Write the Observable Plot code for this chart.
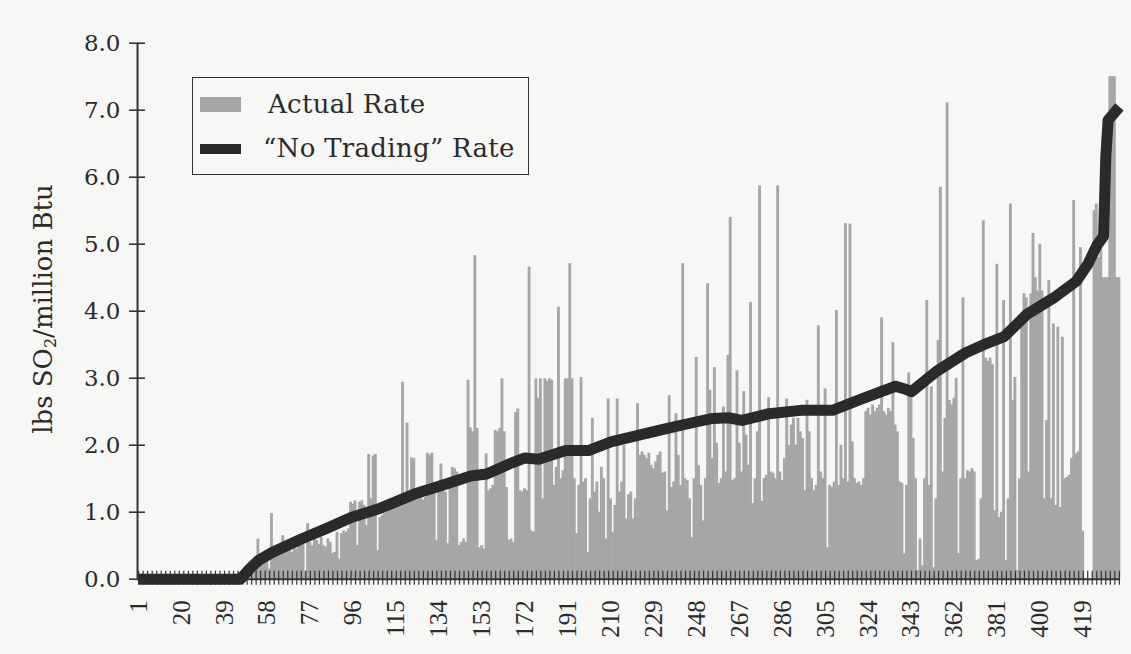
<!DOCTYPE html>
<html>
<head>
<meta charset="utf-8">
<script src="https://cdn.jsdelivr.net/npm/d3@7"></script>
<script src="https://cdn.jsdelivr.net/npm/@observablehq/plot@0.6"></script>
<style>
  html, body { margin: 0; padding: 0; background: #f7f7f5; }
  #wrap { position: relative; width: 1131px; height: 654px; overflow: hidden; }
  #ylabel { position: absolute; left: 44px; top: 309px; transform: translate(-50%, -50%) rotate(-90deg);
            font-family: "DejaVu Serif"; font-size: 26px; color: #2b2b2b; white-space: nowrap; }
  #ylabel sub { font-size: 16px; vertical-align: -4px; }
  #legend { position: absolute; left: 192px; top: 77px; width: 337px; height: 98px; box-sizing: border-box;
            border: 1.6px solid #333; background: #f7f7f5; }
  .sw { position: absolute; left: 200px; width: 41px; }
  .lt { position: absolute; font-family: "DejaVu Serif"; font-size: 26px; line-height: 26px; letter-spacing: 0.3px; color: #2b2b2b; white-space: nowrap; }
</style>
</head>
<body>
<div id="wrap">
  <div id="chart"></div>
  <div id="ylabel">lbs SO<sub>2</sub>/million Btu</div>
  <div id="legend"></div>
  <div class="sw" style="top:97px;height:15px;background:#a6a6a6;"></div>
  <div class="lt" style="left:268px;top:91px;">Actual Rate</div>
  <div class="sw" style="top:144px;height:10px;background:#2a2a2a;"></div>
  <div class="lt" style="left:263px;top:135px;">“No Trading” Rate</div>
</div>
<script>
// Actual SO2 emission rate for each unit (units sorted by "No Trading" rate)
const actualRate = [
  // 1-45
  0,0,0,0,0,0,0,0,0,0,0,0,0,0,0,0,0,0,0,0,0,0,0,0,0,0,0,0,0,0,0,0,0,0,0,0,0,0,0,0,0,0,0,0,0,
  // 46-76
  0.05,0.1,0.12,0.15,0.18,0.2,0.22,0.25,0.6,0.3,0.3,0.32,0.35,0.15,0.98,0.4,0.42,0.45,0.4,0.65,
  0.48,0.5,0.45,0.4,0.5,0.45,0.55,0.58,0.6,0.12,0.83,
  // 77-117
  0.55,0.5,0.6,0.58,0.52,0.62,0.5,0.48,0.6,0.55,0.38,0.4,0.7,0.3,0.68,0.72,0.7,0.75,1.15,1.12,
  1.17,0.5,1.15,1.17,1.1,0.8,1.86,1.2,1.84,1.86,0.43,0.92,0.95,0.98,1.0,1.05,1.08,1.1,1.12,1.15,1.18,
  // 118-147
  2.94,1.2,2.33,1.25,1.81,1.8,1.22,1.2,1.25,1.18,1.22,1.88,1.85,1.88,1.3,0.58,1.3,1.72,1.35,1.3,
  0.53,1.4,1.67,1.65,1.6,0.5,0.55,0.6,0.55,2.97,
  // 148-220
  2.26,2.2,4.83,2.25,0.47,0.5,0.45,1.87,1.32,1.35,1.4,2.22,2.2,2.25,2.99,2.2,1.37,0.58,0.6,0.55,
  2.49,2.54,1.32,1.3,1.35,1.32,4.66,0.72,0.7,2.99,2.7,2.99,1.2,2.99,2.95,2.99,2.97,1.4,1.67,4.06,
  1.5,1.62,2.99,2.99,4.71,2.99,1.5,0.68,1.4,3.01,1.45,1.5,0.4,1.2,2.4,1.3,1.45,1.0,1.67,1.5,
  0.6,2.69,1.2,0.7,1.1,2.69,1.3,1.45,2.0,0.9,1.26,1.3,0.9,
  // 221-294
  1.2,2.62,1.85,1.9,1.85,1.8,1.88,1.7,1.65,1.75,1.85,1.9,1.58,1.6,1.02,2.74,1.37,1.45,2.47,1.85,
  1.4,4.71,1.5,1.47,1.2,0.62,1.5,3.31,1.69,1.4,0.87,1.5,4.41,2.82,1.8,3.16,2.03,1.43,1.5,2.57,
  1.6,3.34,5.4,1.47,1.5,3.11,2.03,1.6,2.8,2.15,1.7,4.13,1.13,1.5,2.2,5.87,1.16,1.5,1.55,2.71,
  1.6,1.58,1.5,5.87,1.6,1.47,1.8,2.69,2.0,2.3,2.4,2.0,2.4,2.2,
  // 295-367
  2.1,1.32,2.67,2.2,1.5,1.32,1.4,3.78,1.6,1.5,2.84,0.47,1.4,1.37,1.45,4.01,1.4,2.0,1.5,5.31,
  1.45,5.3,2.05,1.5,1.43,1.45,1.4,1.5,2.5,2.55,2.45,2.6,2.5,2.55,2.6,3.9,2.5,2.45,2.55,2.5,
  3.53,2.3,2.2,1.45,1.43,0.38,1.4,3.08,2.8,2.1,1.5,0.13,0.6,0.2,1.5,4.16,1.4,2.87,0.17,1.2,
  3.56,5.85,1.6,2.4,7.11,2.67,2.6,2.7,3.0,0.38,1.5,4.2,1.5,
  // 368-435
  1.62,1.6,1.65,1.6,0.28,0.3,1.2,5.35,3.3,3.25,3.3,3.2,1.02,4.7,0.92,1.0,4.16,0.28,1.2,5.6,
  2.67,3.01,0.13,1.5,3.9,4.26,4.2,1.6,4.26,5.16,4.5,4.3,5.0,4.3,1.2,2.37,4.46,1.2,3.81,1.1,
  3.76,1.07,3.61,1.5,1.52,1.55,1.8,5.65,1.87,1.9,4.95,0.72,0,0,0,0,5.5,5.6,4.8,5.4,
  4.5,4.5,4.5,7.5,7.5,7.5,4.5,4.5
];

// "No Trading" rate, read at points along the curve
const noTradingUnit = [1,46,50,54,60,73,85,95,108,123,135,148,155,165,172,178,190,200,210,221,
  235,248,255,262,268,280,294,308,321,336,340,343,354,367,375,384,394,406,416,421,425,428,429,430,435];
const noTradingRate = [0,0,0.15,0.28,0.4,0.6,0.77,0.92,1.06,1.27,1.4,1.54,1.57,1.72,1.81,1.79,1.92,1.92,2.05,2.14,
  2.25,2.35,2.4,2.41,2.37,2.47,2.52,2.52,2.69,2.88,2.84,2.8,3.1,3.38,3.5,3.62,3.95,4.2,4.45,4.7,4.98,5.12,6.3,6.85,7.05];

const xTickLabels = [1,20,39,58,77,96,115,134,153,172,191,210,229,248,267,286,305,324,343,362,381,400,419];
const yTickValues = [0,1,2,3,4,5,6,7,8];

const units = d3.range(1, actualRate.length + 1);
const bars = units.map((u, i) => ({unit: u, rate: actualRate[i]}));
const curve = noTradingUnit.map((u, i) => ({unit: u, rate: noTradingRate[i]}));
const minorTicks = units.filter(u => u % 2 === 1);

const chart = Plot.plot({
  width: 1131,
  height: 654,
  marginLeft: 137,
  marginRight: 11,
  marginTop: 42.7,
  marginBottom: 75.3,
  x: {type: "band", domain: units, padding: 0, axis: null},
  y: {domain: [0, 8], axis: null},
  style: {background: "transparent", fontFamily: "DejaVu Serif", color: "#2b2b2b", overflow: "visible"},
  marks: [
    Plot.barY(bars, {x: "unit", y: "rate", fill: "#a6a6a6", insetLeft: -0.3, insetRight: -0.3}),
    Plot.axisX({ticks: minorTicks, anchor: "bottom", tickSize: 14, dy: -8, tickFormat: () => "", stroke: "#333", strokeWidth: 1.2, label: null}),
    Plot.axisX({ticks: xTickLabels, anchor: "bottom", tickSize: 0, tickPadding: 21, tickRotate: -90,
      fontSize: 25, fontFamily: "Liberation Serif", label: null}),
    Plot.ruleY([0], {stroke: "#333", strokeWidth: 2}),
    Plot.ruleX([units[0]], {y1: yTickValues[0], y2: yTickValues[yTickValues.length - 1], dx: -1.1, stroke: "#333", strokeWidth: 2}),
    Plot.axisY({ticks: yTickValues, anchor: "left", tickSize: 16, dx: 8, tickFormat: () => "", stroke: "#333", strokeWidth: 1.6, label: null}),
    Plot.axisY({ticks: yTickValues, anchor: "left", tickSize: 0, tickPadding: 17, tickFormat: d => d.toFixed(1),
      fontSize: 23, label: null}),
    Plot.line(curve, {x: "unit", y: "rate", stroke: "#2a2a2a", strokeWidth: 11, strokeLinejoin: "round", strokeLinecap: "butt"})
  ]
});
document.getElementById("chart").append(chart);
</script>
</body>
</html>
